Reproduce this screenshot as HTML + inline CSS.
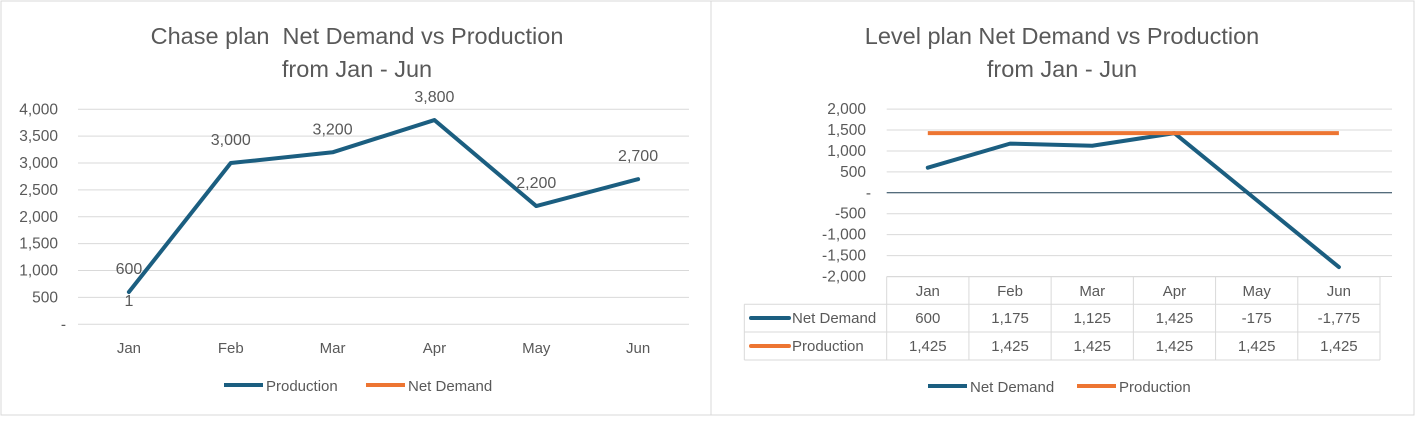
<!DOCTYPE html>
<html><head><meta charset="utf-8"><style>
body{margin:0;width:1416px;height:418px;background:#fff;overflow:hidden;font-family:"Liberation Sans",sans-serif}
svg text{font-family:"Liberation Sans",sans-serif;fill:#595959}
</style></head><body>
<svg id="s" width="1416" height="418">
<rect x="1" y="1" width="710" height="414" fill="#fff" stroke="#d9d9d9"/>
<rect x="711" y="1" width="703" height="414" fill="#fff" stroke="#d9d9d9"/>
<text x="357" y="44" font-size="23.5" text-anchor="middle">Chase plan&#160; Net Demand vs Production</text>
<text x="357" y="77" font-size="23.5" text-anchor="middle">from Jan - Jun</text>
<text x="1062" y="44" font-size="23.5" text-anchor="middle">Level plan Net Demand vs Production</text>
<text x="1062" y="77" font-size="23.5" text-anchor="middle">from Jan - Jun</text>
<g id="L"></g><g id="R"></g>
<g>
<line x1="224" y1="385" x2="263" y2="385" stroke="#1b5e80" stroke-width="4"/>
<text x="266" y="391" font-size="15">Production</text>
<line x1="366" y1="385" x2="405" y2="385" stroke="#ed7532" stroke-width="4"/>
<text x="408" y="391" font-size="15">Net Demand</text>
</g>
<g>
<line x1="928" y1="386" x2="967" y2="386" stroke="#1b5e80" stroke-width="4"/>
<text x="970" y="392" font-size="15">Net Demand</text>
<line x1="1077" y1="386" x2="1116" y2="386" stroke="#ed7532" stroke-width="4"/>
<text x="1119" y="392" font-size="15">Production</text>
</g>
</svg>
<script>
const months=["Jan","Feb","Mar","Apr","May","Jun"];
const chaseProduction=[600,3000,3200,3800,2200,2700];
const chaseNetDemand=[1,1,1,1,1,1];
const chaseTicks=[0,500,1000,1500,2000,2500,3000,3500,4000];
const levelNetDemand=[600,1175,1125,1425,-175,-1775];
const levelProduction=[1425,1425,1425,1425,1425,1425];
const levelTicks=[-2000,-1500,-1000,-500,0,500,1000,1500,2000];
const NS="http://www.w3.org/2000/svg";
function mk(p,t,a,txt){const e=document.createElementNS(NS,t);for(const k in a)e.setAttribute(k,a[k]);if(txt!==undefined)e.textContent=txt;p.appendChild(e);return e;}
const fmt=v=>v===0?"-":v.toLocaleString("en-US");
// left
const L=document.getElementById("L");
const lx=i=>78+(i+0.5)*(611/6), ly=v=>324.3-v*(215/4000);
chaseTicks.forEach(t=>{
 let g=mk(L,"line",{x1:78,x2:689,y1:ly(t),y2:ly(t),stroke:"#d9d9d9"});
 
 
 let tx=mk(L,"text",{x:t===0?66:58,y:ly(t)+5,"font-size":15.5,"text-anchor":"end"},fmt(t));
 
 
});
months.forEach((m,i)=>{
 let t=mk(L,"text",{x:lx(i),y:353,"font-size":15,"text-anchor":"middle"},m);
 
 
});
let lp=mk(L,"polyline",{points:chaseProduction.map((v,i)=>lx(i)+","+ly(v)).join(" "),fill:"none",stroke:"#1b5e80","stroke-width":4,"stroke-linejoin":"round","stroke-linecap":"round"});


chaseProduction.forEach((v,i)=>{
 let t=mk(L,"text",{x:lx(i),y:ly(v)-18,"font-size":16,"text-anchor":"middle",fill:"#404040"},fmt(v));
 
 
});
let one=mk(L,"text",{x:lx(0),y:ly(chaseProduction[0])+14,"font-size":16,"text-anchor":"middle",fill:"#404040"},String(chaseNetDemand[0]));


// right
const R=document.getElementById("R");
const x0=886.7,cw=(1380-886.7)/6;
const rx=i=>x0+(i+0.5)*cw, ry=v=>192.8-v*(83.7/2000);
levelTicks.forEach(t=>{
 let g=mk(R,"line",{x1:x0,x2:1392,y1:ry(t),y2:ry(t),stroke:t===0?"#1b3b50":"#d9d9d9"});
 
 
 let tx=mk(R,"text",{x:t===0?871:866,y:ry(t)+5,"font-size":15.5,"text-anchor":"end"},fmt(t));
 
 
});
const rows=[276.7,304.3,332,360];
[[x0,rows[0],1380,rows[0]],[744.3,rows[1],1380,rows[1]],[744.3,rows[2],1380,rows[2]],[744.3,rows[3],1380,rows[3]],[744.3,rows[1],744.3,rows[3]]].forEach(a=>{
 let l=mk(R,"line",{x1:a[0],y1:a[1],x2:a[2],y2:a[3],stroke:"#d9d9d9"});
 
 
});
for(let i=0;i<=6;i++){let l=mk(R,"line",{x1:x0+i*cw,x2:x0+i*cw,y1:rows[0],y2:rows[3],stroke:"#d9d9d9"});
 
 }
months.forEach((m,i)=>{
 let t=mk(R,"text",{x:rx(i),y:296,"font-size":15,"text-anchor":"middle"},m);
 
 
 let a=mk(R,"text",{x:rx(i),y:323,"font-size":15,"text-anchor":"middle"},levelNetDemand[i].toLocaleString("en-US"));
 
 
 let b=mk(R,"text",{x:rx(i),y:351,"font-size":15,"text-anchor":"middle"},levelProduction[i].toLocaleString("en-US"));
 
 
});
let k1=mk(R,"line",{x1:751,x2:789,y1:318,y2:318,stroke:"#1b5e80","stroke-width":4,"stroke-linecap":"round"});


let t1=mk(R,"text",{x:792,y:323,"font-size":15},"Net Demand");


let k2=mk(R,"line",{x1:751,x2:789,y1:346,y2:346,stroke:"#ed7532","stroke-width":4,"stroke-linecap":"round"});


let t2=mk(R,"text",{x:792,y:351,"font-size":15},"Production");


let nd=mk(R,"polyline",{points:levelNetDemand.map((v,i)=>rx(i)+","+ry(v)).join(" "),fill:"none",stroke:"#1b5e80","stroke-width":4,"stroke-linejoin":"round","stroke-linecap":"round"});


let pr=mk(R,"polyline",{points:levelProduction.map((v,i)=>rx(i)+","+ry(v)).join(" "),fill:"none",stroke:"#ed7532","stroke-width":4,"stroke-linejoin":"round"});


</script>
</body></html>
